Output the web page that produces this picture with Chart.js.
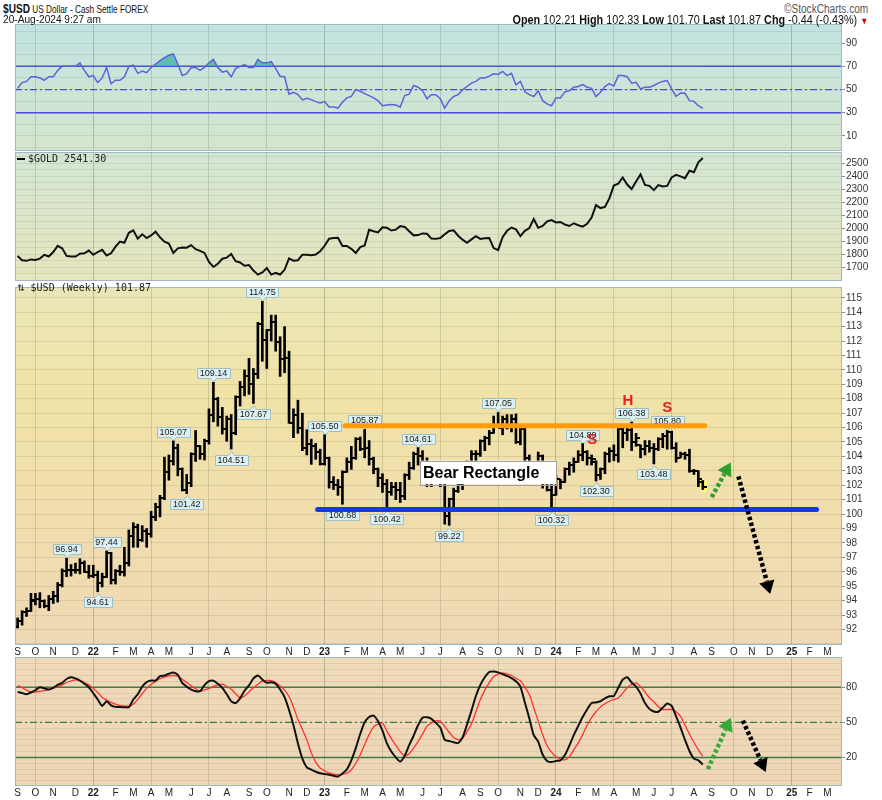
<!DOCTYPE html>
<html><head><meta charset="utf-8">
<script src="https://cdn.jsdelivr.net/npm/chart.js@4.4.1/dist/chart.umd.min.js"></script>
<style>
html,body{margin:0;padding:0;background:#fff;width:882px;height:800px;overflow:hidden;}
#wrap{position:relative;width:882px;height:800px;}
canvas{position:absolute;left:0;}
.t{position:absolute;white-space:nowrap;color:#111;font-family:'Liberation Sans',Arial,sans-serif;}
.m{position:absolute;white-space:nowrap;color:#222;font-family:'DejaVu Sans Mono',monospace;font-size:10px;line-height:10px;}
</style></head><body>
<div id="wrap">
<canvas id="cRsi" width="882" height="127" style="top:24px"></canvas>
<canvas id="cGold" width="882" height="129" style="top:152px"></canvas>
<canvas id="cUsd" width="882" height="376" style="top:282px"></canvas>
<canvas id="cSto" width="882" height="142" style="top:657px"></canvas>
<div class="t" style="left:3px;top:1px;font-size:11px;transform:scaleX(0.75);transform-origin:left top;"><b style="font-size:13.5px">$USD</b> US Dollar - Cash Settle FOREX</div>
<div class="t" style="right:14px;top:2px;font-size:12px;color:#555;transform:scaleX(0.84);transform-origin:right top;">©StockCharts.com</div>
<div class="t" style="left:3px;top:13px;font-size:11px;transform:scaleX(0.92);transform-origin:left top;">20-Aug-2024 9:27 am</div>
<div class="t" style="right:14px;top:13px;font-size:12px;transform:scaleX(0.9);transform-origin:right top;"><b>Open</b> 102.21 <b>High</b> 102.33 <b>Low</b> 101.70 <b>Last</b> 101.87 <b>Chg</b> -0.44 (-0.43%) <span style="color:#c00;font-size:9px">▼</span></div>
<div class="m" style="left:17px;top:154px;"><span style="display:inline-block;width:8px;height:2px;background:#000;vertical-align:middle;margin-right:3px"></span>$GOLD 2541.30</div>
<div class="m" style="left:17px;top:283px;"><span style="font-family:'DejaVu Sans',sans-serif;font-size:9px">⇅</span> $USD (Weekly) 101.87</div>
</div>
<script>
// ================= DATA =================
const firstWeek = '2021-09-06';   // week of first bar (weekly bars)
const usdOpen = [92.20,92.55,93.20,93.30,94.00,94.10,93.95,93.65,94.10,94.30,
95.10,96.05,96.10,96.15,96.10,96.60,96.00,95.70,95.75,95.20,
95.65,97.30,95.45,96.05,96.00,96.60,98.50,99.10,98.20,98.80,
98.60,99.80,100.50,101.10,102.95,103.65,104.55,103.15,101.65,102.15,
104.15,104.70,104.20,105.10,106.90,108.00,106.70,105.90,106.60,105.60,
108.10,108.80,109.60,109.00,109.70,113.20,112.10,112.75,113.30,111.95,
110.75,110.80,106.30,106.90,106.00,104.55,104.85,104.70,104.30,103.50,
103.90,102.20,102.00,101.90,102.90,103.60,103.90,105.20,104.50,104.60,
103.80,103.10,102.50,102.10,101.55,101.85,101.70,101.25,102.70,103.20,
104.20,104.00,103.55,102.30,102.90,102.90,102.30,99.90,101.05,101.60,
102.00,102.80,103.40,104.20,104.20,105.10,105.30,105.60,106.20,106.00,
106.60,106.20,106.60,105.00,105.90,103.90,103.40,103.30,104.00,102.60,
101.70,101.30,102.40,102.20,103.10,103.40,103.60,104.10,104.30,103.90,
103.60,102.70,103.10,104.20,104.40,104.10,105.90,105.60,105.80,105.00,
104.80,104.50,104.70,104.60,104.50,105.20,105.40,105.70,104.60,103.90,
104.20,104.10,103.00,103.00,102.21];
const usdHigh = [92.80,93.30,93.50,94.50,94.50,94.55,94.05,94.35,94.65,95.25,
96.20,96.94,96.50,96.60,96.90,96.75,96.45,96.45,96.05,95.90,
97.44,97.35,96.15,96.45,97.70,98.90,99.40,99.30,99.20,99.00,
100.20,100.75,101.30,103.95,104.10,105.07,104.85,103.20,102.75,104.25,
105.80,104.75,105.20,107.30,109.14,108.10,107.40,106.80,106.90,108.20,
109.20,110.00,110.80,110.10,113.30,114.75,112.80,113.80,113.80,112.30,
113.00,111.30,107.30,107.90,107.00,105.85,105.20,104.90,104.50,105.50,
103.95,102.60,102.40,103.00,103.90,104.70,105.30,105.35,105.87,105.10,
103.95,103.20,102.80,102.40,102.20,102.20,102.20,102.80,103.60,104.30,
104.61,104.40,103.90,103.00,103.50,103.30,102.30,101.10,101.80,102.80,
103.10,103.70,104.40,104.40,105.15,105.40,105.80,106.80,107.05,106.80,
106.90,106.90,106.95,106.00,106.00,104.10,103.60,104.30,104.10,102.70,
102.10,102.70,102.40,103.20,103.60,103.90,104.40,104.89,104.40,104.10,
103.70,103.20,104.30,104.60,104.80,106.00,106.10,106.00,106.38,105.60,
104.80,105.10,105.10,104.90,105.30,105.60,105.80,105.75,104.95,104.30,
104.30,104.50,103.10,103.00,102.33];
const usdLow = [92.10,92.30,92.90,93.25,93.70,93.50,93.50,93.30,93.80,93.90,
94.95,95.65,95.70,95.90,95.85,95.95,95.55,95.60,94.61,94.95,
95.60,95.15,95.15,95.75,95.70,96.40,97.70,97.70,98.10,97.70,
98.40,99.55,99.80,101.00,102.35,103.40,102.65,101.60,101.42,101.90,
103.65,103.80,103.75,104.85,106.40,106.10,105.55,105.05,104.51,105.50,
107.50,108.20,108.30,107.67,109.40,110.60,110.10,112.00,111.30,109.55,
109.80,106.30,105.30,105.60,104.40,104.10,103.45,103.80,103.40,103.40,
101.80,101.70,101.30,100.68,102.90,103.10,103.80,104.40,103.90,103.40,
102.80,101.90,101.50,100.42,101.30,101.00,100.80,101.00,102.40,103.10,
103.40,103.10,101.90,101.90,102.40,101.90,99.30,99.22,100.50,101.50,
101.70,102.50,103.10,103.00,104.00,104.40,104.80,105.60,106.00,105.50,
105.90,105.70,104.90,104.80,103.70,103.20,102.40,103.10,101.80,101.60,
100.32,101.30,101.75,102.20,102.70,102.90,103.60,103.70,103.40,103.40,
102.30,102.40,102.80,103.60,103.70,103.60,104.60,105.10,104.40,104.70,
103.90,104.10,104.30,103.48,104.40,104.60,104.50,104.50,103.60,103.90,
103.80,102.90,102.75,101.90,101.70];
const usdClose = [92.55,93.20,93.30,94.05,94.10,93.95,93.65,94.10,94.30,95.10,
96.05,96.10,96.15,96.10,96.60,96.00,95.70,95.75,95.20,95.65,
97.30,95.45,96.05,96.00,96.60,98.50,99.10,98.20,98.80,98.60,
99.80,100.50,101.10,102.95,103.65,104.55,103.15,101.65,102.15,104.15,
104.70,104.20,105.10,106.90,108.00,106.70,105.90,106.60,105.60,108.10,
108.80,109.60,109.00,109.70,113.20,112.10,112.75,113.30,111.95,110.75,
110.80,106.30,106.90,106.00,104.55,104.85,104.70,104.30,103.50,103.90,
102.20,102.00,101.90,102.90,103.60,103.90,105.20,104.50,104.60,103.80,
103.10,102.50,102.10,101.55,101.85,101.70,101.25,102.70,103.20,104.20,
104.00,103.55,102.30,102.90,102.90,102.30,99.90,101.05,101.60,102.00,
102.80,103.40,104.20,104.20,105.10,105.30,105.60,106.20,106.00,106.60,
106.20,106.60,105.00,105.90,103.90,103.40,103.30,104.00,102.60,101.70,
101.30,102.40,102.20,103.10,103.40,103.60,104.10,104.30,103.90,103.80,
102.70,103.10,104.20,104.40,104.10,105.90,105.60,105.80,105.00,105.30,
104.50,104.70,104.60,104.50,105.20,105.40,105.70,104.60,103.90,104.20,
104.10,103.00,103.00,102.40,101.87];
const goldClose = [1787,1754,1750,1761,1757,1767,1796,1783,1818,1865,1846,1788,1783,1783,1805,1808,1829,
1797,1818,1835,1791,1808,1859,1898,1889,1966,1985,1921,1954,1925,1945,1974,1931,1897,1883,1811,1846,1853,1851,1871,1840,1827,1811,1742,1703,1727,1766,1775,1802,1747,1737,1712,1717,1675,1644,1661,1695,1644,1657,1645,1681,1769,1751,1755,1797,1797,1793,1798,1824,
1866,1920,1926,1928,1865,1865,1842,1811,1856,1868,1989,1978,1969,2008,2004,1983,1990,2017,2011,1977,1946,1948,1961,1958,1921,1919,1925,1955,1980,1985,1943,1913,1889,1915,1940,1919,1924,1925,1848,1833,1932,1981,2006,1992,1940,1981,2002,2072,2004,2019,2053,2063,
2045,2049,2029,2018,2039,2024,2013,2035,2083,2179,2156,2165,2230,2329,2344,2391,2337,2302,2360,2415,2334,2327,2294,2333,2322,2326,2392,2411,2400,2386,2443,2431,2508,2541.3];
const rsi14 = [51,56,57,61,61,60,58,61,61,66.5,
70,70,70,70,73,66.5,61,62,56,60,
69,55,58,58,61,70,71,64,66,64.5,
69,72,75,77.5,79.5,80.7,72,62,63.6,69,
69,66.5,69,73,76,69,65,66,61,68,
70,71.5,69,69,76,73,73,74,68,61.5,
61,46,47.6,45.6,41,42.5,41.3,39.6,38.4,39.6,
35,35,34,39,42.8,44,50,48.5,46.5,44.8,
42.8,40.4,36,36.7,37,36.7,35,44.8,46,53.5,
52,49,42,45.6,45.6,42,34,40.4,44,45.6,
49.7,52.6,55.5,57,60,60,61.5,63.6,63,65.6,
62,64,54,57,48,45.6,44,49,40.4,37.6,
36,42.8,42.8,48,49,52,52.6,54.3,52,51,
44,47.6,52.6,55,53,62,62,61,55.5,56.3,
50.6,52,52,53.5,55.5,57,57.8,50.6,44,47,
46.8,40.4,39.8,36,33.7];
const stochK = [76,75,74,75.5,77.5,80,79,78,79.5,82,
83.7,87,88.6,87.5,85.7,83,80,75,69.5,64,
68,64.5,63.2,63,62.9,62.8,69.5,74,80.5,84.3,
85.7,85.7,89.4,90,91.5,92.5,90.5,83.7,80.5,78,
76.6,76.6,81.7,85.2,85.5,83,79.5,74,68,66.5,
70.5,77,81.5,87.5,90,86.6,83.8,84.3,83,78,
71.5,60.5,47.5,32,19,11.5,9.6,7.8,6.5,5.8,
5.2,4.3,3.7,6.2,9.8,17.5,28,40,50,54.6,
55.7,51,43,32,25,20,16.5,21.5,30.5,38.5,
47.5,54,54.3,53,49.5,45.5,35,34,33,32.3,
37,48,60,72.5,82,88.5,93,93.5,92.7,91.2,
89.6,87.7,85,80.5,67,53.5,39,33.5,22.5,17,
16,17,17.5,22,30,39,47,54.5,61,66.5,
67,68,70.5,72.3,72.5,79.5,86.5,88.5,84,80.5,
74.5,66.5,61.5,59.3,59,62.6,66,64,55,45.5,
35,25.5,19,17.5,14];
const stochD = [81.5,79.5,77.5,76,76,76.5,77,78,79,80.2,
82,84,85.3,86.3,85.7,84,82,79,75.5,71.5,
69,67,65.5,64.3,64,63.8,65.5,69.5,74.5,79,
82.3,85,87.2,88.7,89.6,90,89.5,86.8,84,81.3,
78.6,76.6,77.8,79,80.6,82,82.6,80.7,78.3,74.5,
71,72.5,76,79.6,82.6,85.4,85.7,85.7,84,81,
77.5,72,63,52.5,44,35,24,16,11,8.6,
6.8,5.8,5.3,5.6,6.5,9.5,15,22.3,31,39.5,
46,48.5,49.4,42.5,36,30.5,25,21.3,23.2,28,
33.5,40,46.5,49.5,51.3,51,46.5,41.5,37,35.3,
36.6,42,48.5,59,69.5,77.5,84,89,91.2,92.2,
91.2,90,87.5,85.5,80,73.7,62.5,51,39.5,30,
24.5,20.5,18.5,18,20.5,26.5,32.5,39.5,47.5,54,
59,63.2,65.8,68,69.5,70.8,75,79.5,82.3,83.7,
80.5,76,71,67.5,63.5,61,60.9,60.9,59,55,
47.5,40,33,26.5,21];
const rsiLevels = [70, 50, 30];
const stochLevels = [80, 50, 20];
const rsiLabels = [10, 30, 50, 70, 90];
const goldLabels = [1700, 1800, 1900, 2000, 2100, 2200, 2300, 2400, 2500];
const usdLabels = [92,93,94,95,96,97,98,99,100,101,102,103,104,105,106,107,108,109,110,111,112,113,114,115];
const stochLabels = [20, 50, 80];
// peak/trough callouts: [bar index, value, +1 above / -1 below]
const callouts = [[11,96.94,1],[18,94.61,-1],[20,97.44,1],[35,105.07,1],[38,101.42,-1],[44,109.14,1],
[48,104.51,-1],[53,107.67,-1],[55,114.75,1],[69,105.50,1],[73,100.68,-1],[78,105.87,1],[83,100.42,-1],
[90,104.61,1],[97,99.22,-1],[108,107.05,1],[120,100.32,-1],[127,104.89,1],[130,102.30,-1],[138,106.38,1],
[143,103.48,-1],[146,105.80,1]];
const resistance = {from:'2023-02-03', to:'2024-08-22', value:106.13};
const support = {from:'2022-12-22', to:'2025-02-14', value:100.31};
const bearBox = {text:'Bear Rectangle', from:'2023-06-01', to:'2024-01-01', top:103.71, bottom:102.07};
const patternText = [['S','2024-02-27',105.15],['H','2024-04-23',107.82],['S','2024-06-24',107.34]];
const usdArrows = [{color:'#2e9e2e', from:['2024-09-02',101.18], to:['2024-10-02',103.58]},
                   {color:'#000000', from:['2024-10-14',102.62], to:['2024-12-03',94.46]}];
const stochArrows = [{color:'#38a838', from:['2024-08-27',10], to:['2024-10-02',53.9]},
                     {color:'#000000', from:['2024-10-21',51.5], to:['2024-11-26',7.6]}];

// ================= HELPERS =================
const DAY0 = Date.UTC(2021, 8, 1);
const dayOf = s => Math.round((Date.parse(s + 'T00:00:00Z') - DAY0) / 86400000);
const X_MIN = 0.86, X_MAX = 1302;
const w0 = dayOf(firstWeek);
const weekX = usdClose.map((_, j) => w0 + 7 * j);
const pts = arr => arr.map((v, j) => ({x: weekX[j], y: v}));
const hline = v => [{x: X_MIN, y: v}, {x: X_MAX, y: v}];

const monthTicks = [];
(function () {
  let y = 2021, m = 8;
  while (y < 2025 || (y === 2025 && m <= 2)) {
    let d = new Date(Date.UTC(y, m, 1));
    while (d.getUTCDay() !== 1) d = new Date(d.getTime() + 86400000);
    monthTicks.push({day: (d.getTime() - DAY0) / 86400000, label: m === 0 ? String(y).slice(2) : 'JFMAMJJASOND'[m], year: m === 0, quarter: m % 3 === 0});
    m++; if (m > 11) { m = 0; y++; }
  }
})();

function xScale(show) {
  return {
    type: 'linear', min: X_MIN, max: X_MAX, offset: false,
    afterBuildTicks: s => { s.ticks = monthTicks.map(t => ({value: t.day})); },
    ticks: {display: show, autoSkip: false, maxRotation: 0, minRotation: 0, padding: 1, color: '#222',
      font: c => ({family: 'Liberation Sans, Arial, sans-serif', size: 10, weight: (monthTicks[c.index] || {}).year ? 'bold' : 'normal'}),
      callback: (v, i) => monthTicks[i] ? monthTicks[i].label : ''},
    grid: {offset: false, drawTicks: false, lineWidth: 1,
      color: c => { const t = monthTicks[c.index]; return t && t.quarter ? (t.year ? 'rgba(80,105,85,0.32)' : 'rgba(80,105,85,0.22)') : 'rgba(0,0,0,0)'; }},
    border: {display: false},
    afterFit: s => { s.height = show ? 13 : 0; s.paddingLeft = 0; s.paddingRight = 0; }
  };
}
function yScale(min, max, step, labels, gridColor) {
  const lab = new Set(labels);
  const grid = [];
  for (let v = Math.ceil(min / step) * step; v <= max; v += step) grid.push(Math.round(v * 100) / 100);
  return {
    position: 'right', min, max,
    afterBuildTicks: s => { s.ticks = grid.map(v => ({value: v})); },
    ticks: {autoSkip: false, padding: 1, color: '#333', font: {family: 'Liberation Sans, Arial, sans-serif', size: 10},
      callback: v => lab.has(v) ? String(v) : ''},
    grid: {color: gridColor, lineWidth: 1, drawTicks: true, tickLength: 3,
      tickColor: c => lab.has(c.tick && c.tick.value) ? '#8a8a8a' : 'rgba(0,0,0,0)'},
    border: {display: false},
    afterFit: s => { s.width = 40; s.paddingTop = 0; s.paddingBottom = 0; }
  };
}
const panelBg = {
  id: 'panelBg',
  beforeDraw(chart, a, o) {
    const {ctx, chartArea: r} = chart;
    const g = ctx.createLinearGradient(0, r.top, 0, r.bottom);
    o.stops.forEach(s => g.addColorStop(s[0], s[1]));
    ctx.save(); ctx.fillStyle = g; ctx.fillRect(r.left, r.top, r.right - r.left, r.bottom - r.top); ctx.restore();
  },
  afterDraw(chart) {
    const {ctx, chartArea: r} = chart;
    ctx.save(); ctx.strokeStyle = '#9fb9c3'; ctx.lineWidth = 1;
    ctx.strokeRect(Math.round(r.left) + 0.5, Math.round(r.top) + 0.5, Math.round(r.right - r.left) - 1, Math.round(r.bottom - r.top) - 1);
    ctx.restore();
  }
};
function drawArrow(ctx, x1, y1, x2, y2, color, lw, dash, head) {
  const a = Math.atan2(y2 - y1, x2 - x1);
  const bx = x2 - Math.cos(a) * head, by = y2 - Math.sin(a) * head;
  ctx.save();
  ctx.strokeStyle = color; ctx.lineWidth = lw; ctx.setLineDash(dash); ctx.lineCap = 'butt';
  ctx.beginPath(); ctx.moveTo(x1, y1); ctx.lineTo(bx, by); ctx.stroke();
  ctx.setLineDash([]); ctx.fillStyle = color;
  const hw = head * 0.6;
  ctx.beginPath(); ctx.moveTo(x2, y2);
  ctx.lineTo(bx + Math.sin(a) * hw, by - Math.cos(a) * hw);
  ctx.lineTo(bx - Math.sin(a) * hw, by + Math.cos(a) * hw);
  ctx.closePath(); ctx.fill();
  ctx.restore();
}
function arrowsPlugin(list) {
  return {id: 'arrows', afterDatasetsDraw(chart) {
    const {ctx, scales: {x, y}} = chart;
    list.forEach(ar => drawArrow(ctx, x.getPixelForValue(dayOf(ar.from[0])), y.getPixelForValue(ar.from[1]),
      x.getPixelForValue(dayOf(ar.to[0])), y.getPixelForValue(ar.to[1]), ar.color, 4.5, [3.5, 2.5], 13));
  }};
}
function tickImg(left) {
  const c = document.createElement('canvas'); c.width = 8; c.height = 2;
  const g = c.getContext('2d'); g.fillStyle = '#000'; g.fillRect(left ? 0 : 4, 0, 4, 2); return c;
}
const common = {responsive: false, animation: false, events: [], layout: {padding: {left: 15, right: 0, top: 0, bottom: 0}}};

// ================= RSI =================
new Chart(document.getElementById('cRsi'), {
  type: 'line',
  data: {datasets: [
    {data: pts(rsi14), borderColor: '#5c62d8', borderWidth: 1.5, pointRadius: 0, tension: 0,
     fill: {target: {value: 70}, above: 'rgba(70,176,168,0.8)', below: 'rgba(0,0,0,0)'}},
    ...rsiLevels.map(v => ({data: hline(v), borderColor: '#4a4ad6', borderWidth: v === 50 ? 1.2 : 1.5,
      borderDash: v === 50 ? [7, 3, 2, 3] : [], pointRadius: 0, fill: false}))
  ]},
  options: {...common, scales: {x: xScale(false), y: yScale(-3, 106.5, 10, rsiLabels, 'rgba(90,130,130,0.16)')},
    plugins: {legend: {display: false}, tooltip: {enabled: false}, panelBg: {stops: [[0, '#c2e3e1'], [1, '#d5e6cd']]}}},
  plugins: [panelBg]
});

// ================= GOLD =================
new Chart(document.getElementById('cGold'), {
  type: 'line',
  data: {datasets: [{data: pts(goldClose), borderColor: '#111', borderWidth: 2, pointRadius: 0, tension: 0, fill: false}]},
  options: {...common, scales: {x: xScale(false), y: yScale(1595, 2587, 50, goldLabels, 'rgba(100,130,100,0.15)')},
    plugins: {legend: {display: false}, tooltip: {enabled: false}, panelBg: {stops: [[0, '#d3e6d4'], [1, '#e6e5bd']]}}},
  plugins: [panelBg]
});

// ================= USD (weekly OHLC) =================
const usdDecor = {
  id: 'usdDecor',
  beforeDatasetsDraw(chart) {
    const {ctx, scales: {x, y}} = chart;
    const n = usdClose.length - 1, lx = x.getPixelForValue(weekX[n]);
    ctx.save(); ctx.fillStyle = '#ffff70';
    ctx.fillRect(lx - 3, y.getPixelForValue(usdHigh[n]) - 1, 7, y.getPixelForValue(usdLow[n]) - y.getPixelForValue(usdHigh[n]) + 3);
    ctx.font = '9px "Liberation Sans", Arial, sans-serif'; ctx.textAlign = 'center'; ctx.textBaseline = 'middle';
    callouts.forEach(([j, v, dir]) => {
      const px = x.getPixelForValue(weekX[j]), py = y.getPixelForValue(v);
      const txt = v.toFixed(2), w = Math.round(ctx.measureText(txt).width) + 5, h = 10;
      const cy = dir > 0 ? py - 9 : py + 10.5;
      const bx = Math.round(px - w / 2) + 0.5, by = Math.round(cy - h / 2) + 0.5, cx = Math.round(px) + 0.5;
      ctx.beginPath();
      ctx.moveTo(bx, by);
      if (dir < 0) { ctx.lineTo(cx - 3, by); ctx.lineTo(cx, by - 4); ctx.lineTo(cx + 3, by); }
      ctx.lineTo(bx + w, by); ctx.lineTo(bx + w, by + h);
      if (dir > 0) { ctx.lineTo(cx + 3, by + h); ctx.lineTo(cx, by + h + 4); ctx.lineTo(cx - 3, by + h); }
      ctx.lineTo(bx, by + h); ctx.closePath();
      ctx.fillStyle = '#dcf0f1'; ctx.fill(); ctx.strokeStyle = '#9ebfc4'; ctx.lineWidth = 1; ctx.stroke();
      ctx.fillStyle = '#1a1a1a'; ctx.fillText(txt, px, cy + 0.5);
    });
    ctx.restore();
  },
  afterDatasetsDraw(chart) {
    const {ctx, scales: {x, y}} = chart;
    ctx.save();
    const l = x.getPixelForValue(dayOf(bearBox.from)), r = x.getPixelForValue(dayOf(bearBox.to));
    const t = y.getPixelForValue(bearBox.top), b = y.getPixelForValue(bearBox.bottom);
    ctx.fillStyle = '#ffffff'; ctx.fillRect(l, t, r - l, b - t);
    ctx.strokeStyle = '#a0a0a0'; ctx.lineWidth = 1; ctx.strokeRect(Math.round(l) + 0.5, Math.round(t) + 0.5, Math.round(r - l), Math.round(b - t));
    ctx.fillStyle = '#000'; ctx.font = 'bold 16px "Liberation Sans", Arial, sans-serif'; ctx.textAlign = 'left'; ctx.textBaseline = 'middle';
    ctx.fillText(bearBox.text, l + 3, (t + b) / 2 + 1);
    ctx.fillStyle = '#ee1c1c'; ctx.font = 'bold 15px "Liberation Sans", Arial, sans-serif'; ctx.textAlign = 'center';
    patternText.forEach(([s, d, v]) => ctx.fillText(s, x.getPixelForValue(dayOf(d)), y.getPixelForValue(v)));
    ctx.restore();
  }
};
new Chart(document.getElementById('cUsd'), {
  type: 'bar',
  data: {datasets: [
    {type: 'line', data: [{x: dayOf(support.from), y: support.value}, {x: dayOf(support.to), y: support.value}],
     borderColor: '#1638e6', borderWidth: 5, borderCapStyle: 'round', pointRadius: 0, fill: false},
    {type: 'line', data: [{x: dayOf(resistance.from), y: resistance.value}, {x: dayOf(resistance.to), y: resistance.value}],
     borderColor: '#ff9a0a', borderWidth: 5, borderCapStyle: 'round', pointRadius: 0, fill: false},
    {type: 'line', showLine: false, data: pts(usdOpen), pointStyle: tickImg(true), pointRadius: 3},
    {type: 'line', showLine: false, data: pts(usdClose), pointStyle: tickImg(false), pointRadius: 3},
    {type: 'bar', data: usdHigh.map((h, j) => ({x: weekX[j], y: [usdLow[j], h]})),
     backgroundColor: '#000', borderWidth: 0, barThickness: 2, grouped: false}
  ]},
  options: {...common, scales: {x: xScale(true), y: yScale(90.92, 115.75, 1, usdLabels, 'rgba(120,115,80,0.16)')},
    plugins: {legend: {display: false}, tooltip: {enabled: false},
      panelBg: {stops: [[0, '#e9e6b7'], [0.3, '#f1e3a7'], [1, '#efd8b4']]}}},
  plugins: [panelBg, usdDecor, arrowsPlugin(usdArrows)]
});

// ================= STOCHASTIC =================
new Chart(document.getElementById('cSto'), {
  type: 'line',
  data: {datasets: [
    {data: pts(stochK), borderColor: '#111', borderWidth: 2, pointRadius: 0, tension: 0.2, fill: false},
    {data: pts(stochD), borderColor: '#ff3030', borderWidth: 1.3, pointRadius: 0, tension: 0.3, fill: false},
    ...stochLevels.map(v => ({data: hline(v), borderColor: '#3d7d45', borderWidth: v === 50 ? 1.3 : 1.5,
      borderDash: v === 50 ? [7, 3, 2, 3] : [], pointRadius: 0, fill: false}))
  ]},
  options: {...common, scales: {x: xScale(true), y: yScale(-4.4, 105.8, 5, stochLabels, 'rgba(130,110,80,0.14)')},
    plugins: {legend: {display: false}, tooltip: {enabled: false}, panelBg: {stops: [[0, '#efdab9'], [1, '#eed6b7']]}}},
  plugins: [panelBg, arrowsPlugin(stochArrows)]
});
</script>
</body></html>
